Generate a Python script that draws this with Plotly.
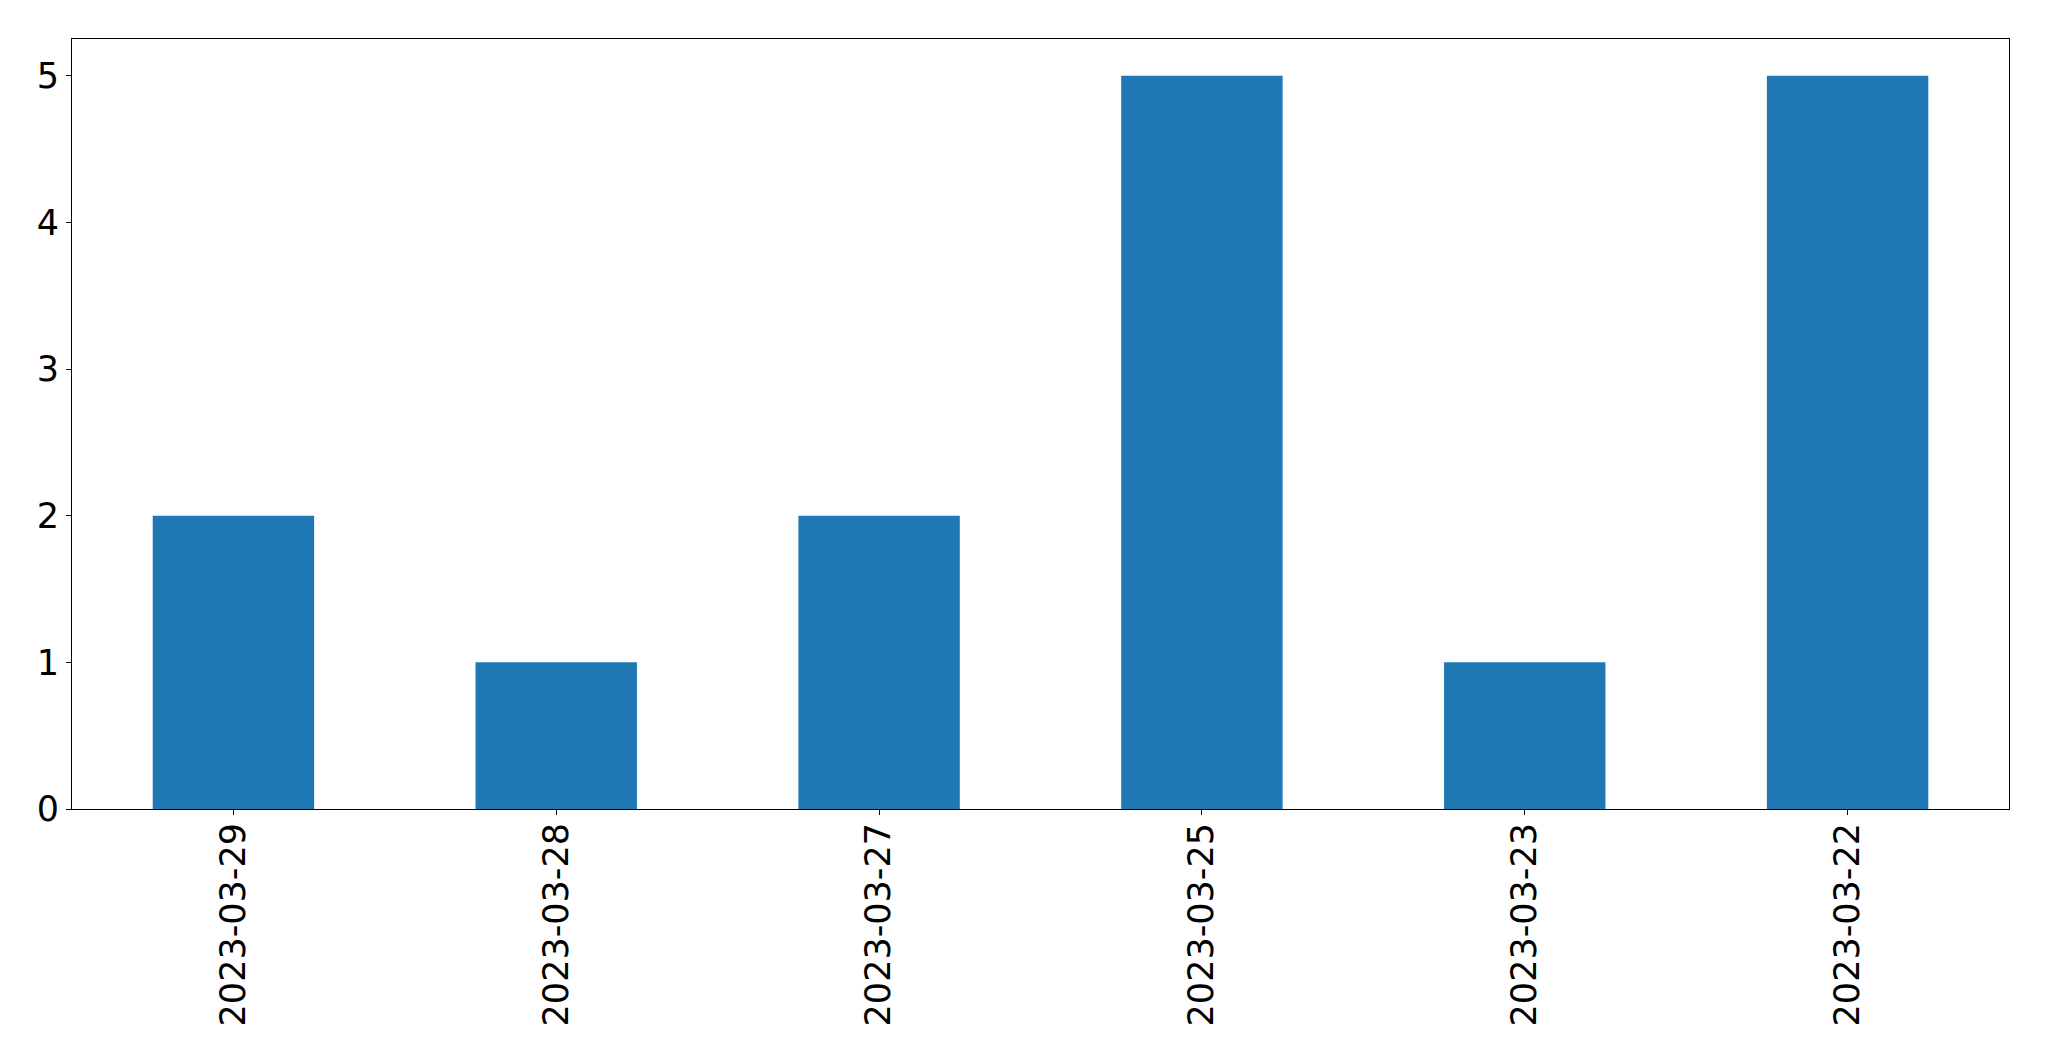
import plotly.graph_objects as go

dates = ["2023-03-29", "2023-03-28", "2023-03-27", "2023-03-25", "2023-03-23", "2023-03-22"]
counts = [2, 1, 2, 5, 1, 5]

fig = go.Figure(go.Bar(x=dates, y=counts, width=0.5, marker=dict(color="#1f77b4", line=dict(width=0))))

font = dict(family="DejaVu Sans", size=35, color="black")
fig.update_layout(
    width=2033, height=1045,
    margin=dict(l=64, r=32, t=31, b=244),
    plot_bgcolor="white", paper_bgcolor="white",
    showlegend=False,
    font=font,
)
fig.update_xaxes(
    type="category", range=[-0.5, 5.5],
    tickangle=-90, ticks="outside", ticklen=5, tickcolor="black",
    showline=True, linecolor="black", linewidth=1, mirror=True,
    showgrid=False, zeroline=False, tickfont=font, ticklabelstandoff=-6,
)
fig.update_yaxes(
    range=[0, 5.25], tickvals=[0, 1, 2, 3, 4, 5],
    ticks="outside", ticklen=5, tickcolor="black",
    showline=True, linecolor="black", linewidth=1, mirror=True,
    showgrid=False, zeroline=False, tickfont=font, ticklabelstandoff=0,
)
fig.write_html("out.html")
